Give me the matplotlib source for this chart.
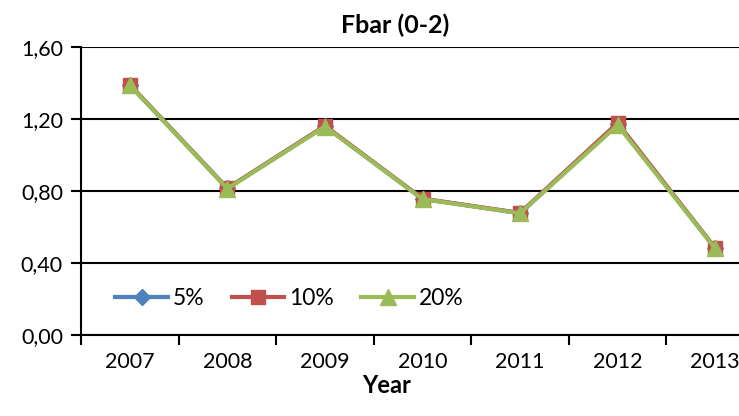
import matplotlib.pyplot as plt
from matplotlib.ticker import FixedLocator, FuncFormatter

years = ["2007", "2008", "2009", "2010", "2011", "2012", "2013"]
fbar_5 = [1.39, 0.815, 1.16, 0.757, 0.677, 1.172, 0.482]
fbar_10 = [1.39, 0.815, 1.162, 0.757, 0.678, 1.178, 0.482]
fbar_20 = [1.388, 0.813, 1.158, 0.755, 0.676, 1.166, 0.481]

plt.rcParams["font.family"] = ["Lato", "DejaVu Sans"]

fig = plt.figure(figsize=(7.39, 4.16), dpi=100)
ax = fig.add_axes([81 / 739, 81 / 416, 683 / 739, 288 / 416])

x = range(len(years))
ax.plot(x, fbar_5, color="#4F81BD", lw=3, marker="D", ms=8, label="5%")
ax.plot(x, fbar_10, color="#C0504D", lw=3, marker="s", ms=10, label="10%")
ax.plot(x, fbar_20, color="#9BBB59", lw=3, marker="^", ms=11, label="20%")

ax.set_xlim(-0.5, len(years) - 0.5)
ax.set_ylim(0, 1.6)
ax.set_yticks([0, 0.4, 0.8, 1.2, 1.6])
ax.yaxis.set_major_formatter(FuncFormatter(lambda v, p: f"{v:.2f}".replace(".", ",")))
ax.grid(axis="y", color="black", lw=1.5)
ax.set_axisbelow(True)

# category labels centred, tick marks between categories
ax.set_xticks(list(x))
ax.set_xticklabels(years)
ax.xaxis.set_minor_locator(FixedLocator([i + 0.5 for i in range(-1, len(years))]))
ax.tick_params(axis="x", which="major", length=0, pad=12, labelsize=15.5)
ax.tick_params(axis="x", which="minor", length=7, width=1.5, direction="out")
ax.tick_params(axis="y", length=7, width=1.5, labelsize=15.5, pad=6)

for s in ["top", "right"]:
    ax.spines[s].set_visible(False)
for s in ["left", "bottom"]:
    ax.spines[s].set_linewidth(1.5)

# the axes run past the right edge of the figure, so centre texts by hand
ax.set_title("Fbar (0-2)", fontsize=18, fontweight="bold", pad=10, x=0.46)
ax.set_xlabel("Year", fontsize=17, fontweight="bold", labelpad=2, x=0.448)

ax.legend(loc="lower left", bbox_to_anchor=(0.02, 0.02), ncol=3, frameon=False,
          fontsize=16.5, handlelength=2.3, columnspacing=1.2, handletextpad=0.2)

fig.savefig("out.png", dpi=100)
